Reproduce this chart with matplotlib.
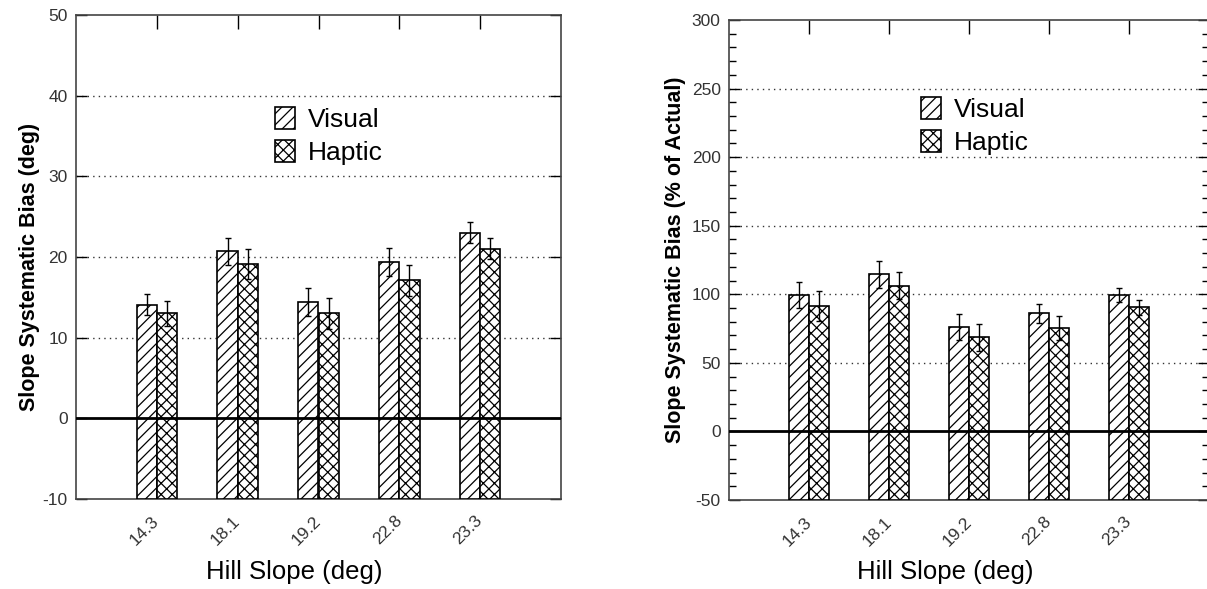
import numpy as np
import matplotlib

matplotlib.use("Agg")
import matplotlib.pyplot as plt
from matplotlib.ticker import MultipleLocator

plt.rcParams["font.family"] = ["Liberation Sans", "DejaVu Sans"]
plt.rcParams["hatch.linewidth"] = 0.9
plt.rcParams["axes.unicode_minus"] = False

# Data
slopes = ["14.3", "18.1", "19.2", "22.8", "23.3"]

visual_deg = [14.1, 20.7, 14.4, 19.4, 23.0]
visual_deg_err = [1.3, 1.7, 1.7, 1.7, 1.3]
haptic_deg = [13.0, 19.1, 13.0, 17.1, 21.0]
haptic_deg_err = [1.5, 1.85, 1.9, 1.95, 1.3]

visual_pct = [99.5, 114.6, 76.0, 86.3, 99.5]
visual_pct_err = [9.5, 9.8, 9.3, 6.9, 5.4]
haptic_pct = [91.4, 106.1, 68.6, 75.2, 90.4]
haptic_pct_err = [11.0, 9.8, 10.0, 8.8, 5.4]

W, H = 1207, 589
fig = plt.figure(figsize=(W / 100, H / 100), dpi=100)

# axes boxes in pixels
ax1 = fig.add_axes([76 / W, 1 - 499 / H, 485 / W, 484 / H])
ax2 = fig.add_axes([729 / W, 1 - 500 / H, 480 / W, 480 / H])

bar_w = 0.25
pos = np.arange(1, len(slopes) + 1)


def draw(ax, vis, vis_err, hap, hap_err, ylim, major, minor, ylabel, leg_xy):
    base = ylim[0]  # bars are drawn up from the bottom of the axis
    vis_h = np.array(vis) - base
    hap_h = np.array(hap) - base
    ax.bar(pos - bar_w, vis_h, bar_w, bottom=base, align="edge", facecolor="white",
           edgecolor="black", hatch="///", linewidth=1.2, label="Visual", zorder=3)
    ax.bar(pos, hap_h, bar_w, bottom=base, align="edge", facecolor="white",
           edgecolor="black", hatch="xxx", linewidth=1.2, label="Haptic", zorder=3)
    ax.errorbar(pos - bar_w / 2, vis, yerr=vis_err, fmt="none", ecolor="black",
                elinewidth=1, capsize=2, capthick=1, zorder=4)
    ax.errorbar(pos + bar_w / 2, hap, yerr=hap_err, fmt="none", ecolor="black",
                elinewidth=1, capsize=2, capthick=1, zorder=4)

    ax.set_xlim(0, 6)
    ax.set_ylim(*ylim)
    ax.axhline(0, color="black", linewidth=2, zorder=5)

    for g in np.arange(ylim[0] + major, ylim[1], major):
        if g != 0:
            ax.axhline(g, color="#333333", linewidth=1, linestyle=(0, (1, 3)), zorder=1)

    ax.yaxis.set_major_locator(MultipleLocator(major))
    if minor:
        ax.yaxis.set_minor_locator(MultipleLocator(minor))
    ax.tick_params(axis="y", which="major", direction="in", left=True, right=True,
                   length=8, width=1, labelsize=12.5, labelcolor="#333333", pad=6)
    ax.tick_params(axis="y", which="minor", direction="in", left=True, right=True,
                   length=5, width=1)

    ax.set_xticks(pos)
    ax.set_xticklabels(slopes, rotation=45, ha="right", va="center",
                       rotation_mode="anchor", fontsize=12.5, color="#333333")
    ax.tick_params(axis="x", which="both", direction="in", bottom=False, top=True,
                   labelbottom=True, length=10, width=1, pad=14)

    for s in ax.spines.values():
        s.set_linewidth(1.2)
        s.set_color("#444444")

    ax.set_ylabel(ylabel, fontsize=15.5, fontweight="bold")
    ax.set_xlabel("Hill Slope (deg)", fontsize=18.5)
    ax.xaxis.set_label_coords(0.45, -0.125)

    leg = ax.legend(loc="upper left", bbox_to_anchor=leg_xy, frameon=False,
                    fontsize=19, handlelength=0.75, handleheight=0.9,
                    handletextpad=0.5, labelspacing=0.3, borderpad=0, borderaxespad=0)
    return leg


draw(ax1, visual_deg, visual_deg_err, haptic_deg, haptic_deg_err,
     (-10, 50), 10, None, "Slope Systematic Bias (deg)", (0.41, 0.81))
ax1.yaxis.set_label_coords(-0.075, 0.48)

draw(ax2, visual_pct, visual_pct_err, haptic_pct, haptic_pct_err,
     (-50, 300), 50, 10, "Slope Systematic Bias (% of Actual)", (0.40, 0.84))
ax2.yaxis.set_label_coords(-0.09, 0.5)

fig.savefig("out.png", dpi=100, facecolor="white")
